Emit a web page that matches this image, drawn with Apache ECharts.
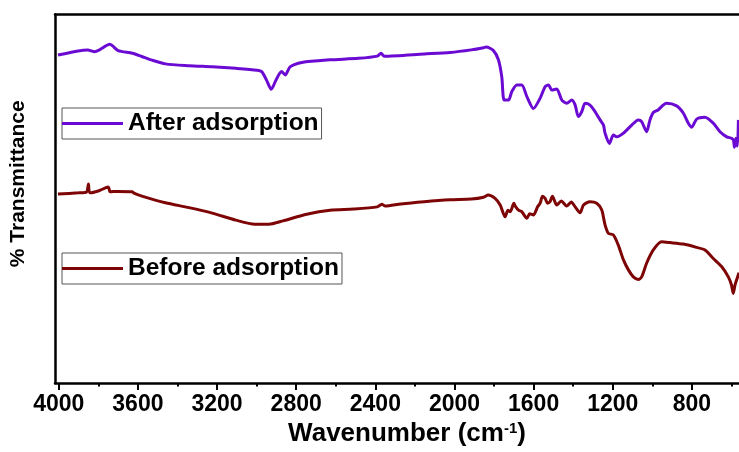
<!DOCTYPE html>
<html>
<head>
<meta charset="utf-8">
<script src="https://cdn.jsdelivr.net/npm/echarts@6/dist/echarts.min.js"></script>
<style>html,body{margin:0;padding:0;background:#fff}#c{width:739px;height:452px}</style>
</head>
<body>
<div id="c"></div>
<script>
// ---- data ----
const afterWavenumber = [4004,3854,3818,3794,3742,3700,3628,3580,3533,3461,3342,3224,3105,2997,2974,2950,2926,2902,2874,2855,2831,2771,2629,2486,2390,2371,2355,2153,2022,1915,1853,1840,1803,1778,1761,1749,1727,1710,1685,1660,1634,1601,1567,1542,1525,1508,1483,1458,1433,1407,1390,1374,1357,1340,1315,1289,1264,1247,1239,1217,1197,1180,1146,1104,1071,1054,1029,1012,995,971,929,877,843,818,801,776,734,692,658,624,599,590,585,578,570,565];
const afterValues = [89.0,90.4,89.9,90.4,91.9,90.2,89.5,88.6,87.7,86.6,86.1,85.8,85.4,84.9,84.5,82.2,79.7,82.2,84.5,83.6,85.8,87.0,87.7,88.1,88.7,89.5,88.7,89.3,89.7,90.4,91.0,91.2,90.2,87.7,83.1,76.8,76.8,79.1,80.9,80.9,77.7,74.5,77.3,80.4,80.9,79.5,79.8,76.8,75.9,76.8,75.4,72.3,73.6,75.9,75.4,73.6,71.4,70.0,67.8,65.0,67.3,66.8,67.8,70.0,71.4,70.9,68.2,71.4,73.4,74.1,75.9,75.2,73.2,70.5,69.4,71.6,72.1,70.5,68.2,66.8,66.4,65.9,64.0,66.4,64.3,71.4];
const beforeWavenumber = [4004,3900,3860,3850,3843,3800,3750,3740,3700,3628,3620,3580,3461,3342,3224,3105,3009,2938,2867,2747,2629,2510,2390,2367,2350,2271,2153,2022,1915,1853,1830,1795,1769,1744,1730,1718,1700,1693,1676,1660,1634,1620,1601,1580,1567,1555,1542,1530,1517,1505,1483,1460,1433,1410,1390,1365,1348,1315,1281,1256,1239,1222,1197,1172,1146,1121,1096,1071,1054,1029,995,953,911,843,776,734,692,650,616,600,591,582,574,562];
const beforeValues = [51.3,51.6,51.8,54.0,51.6,52.1,53.2,51.9,52.0,51.9,51.5,50.7,48.9,47.6,46.1,44.2,43.1,43.1,44.0,45.8,46.9,47.2,47.8,48.5,48.0,48.6,49.2,49.7,49.9,50.4,51.0,50.1,48.3,45.1,46.9,46.5,48.8,48.0,46.9,46.5,44.7,45.9,45.6,47.8,48.8,50.7,50.1,48.8,49.2,50.7,48.3,49.4,48.0,49.1,47.8,46.2,48.3,49.2,48.8,47.0,42.9,40.6,40.2,37.4,33.4,30.7,28.8,28.1,28.8,32.5,36.1,38.3,38.1,37.7,36.8,36.1,33.8,31.6,28.8,26.6,24.3,26.6,28.0,29.9];
const majorTicks = [4000,3600,3200,2800,2400,2000,1600,1200,800];
const minorTicks = [3800,3400,3000,2600,2200,1800,1400,1000,600];
const seriesNames = ['After adsorption','Before adsorption'];
const seriesColors = ['#6A0AD2','#7E0505'];

const pairs = (xs, ys) => xs.map((x, i) => [x, ys[i]]);
const FONT = 'Liberation Sans';
const xMin = 562, xMax = 4019;

const legendBase = {
  orient: 'vertical', icon: 'rect',
  itemWidth: 61, itemHeight: 3, itemGap: 0,
  padding: [3, 3, 3, 0], borderColor: '#555', borderWidth: 1,
  textStyle: {fontFamily: FONT, fontWeight: 'bold', fontSize: 24.5, color: '#000', lineHeight: 24}
};

const chart = echarts.init(document.getElementById('c'), null, {renderer: 'canvas'});
chart.setOption({
  animation: false,
  backgroundColor: '#fff',
  grid: {left: 54.5, top: 14.5, right: 0, bottom: 69, containLabel: false},
  xAxis: [
    {
      type: 'value', position: 'bottom', inverse: true, min: xMin, max: xMax,
      name: 'Wavenumber (cm{sup|-1})', nameLocation: 'middle', nameGap: 37,
      nameTextStyle: {fontFamily: FONT, fontWeight: 'bold', fontSize: 26, color: '#000',
        padding: [0, 0, 0, 20],
        rich: {sup: {fontFamily: FONT, fontWeight: 'bold', fontSize: 15, color: '#000', verticalAlign: 'top', padding: [0,0,10,0]}}},
      axisLine: {show: true, onZero: false, lineStyle: {color: '#000', width: 2.5}},
      axisTick: {show: true, length: 7, lineStyle: {color: '#000', width: 2}, customValues: majorTicks},
      axisLabel: {show: true, margin: 10, fontFamily: FONT, fontWeight: 'bold', fontSize: 23, color: '#000',
        customValues: majorTicks, formatter: v => String(v)},
      splitLine: {show: false}
    },
    {
      type: 'value', position: 'bottom', inverse: true, min: xMin, max: xMax,
      axisLine: {show: false, onZero: false},
      axisTick: {show: true, length: 3.5, lineStyle: {color: '#000', width: 2}, customValues: minorTicks},
      axisLabel: {show: false},
      splitLine: {show: false}
    },
    {
      type: 'value', position: 'top', inverse: true, min: xMin, max: xMax,
      axisLine: {show: true, onZero: false, lineStyle: {color: '#000', width: 2.5}},
      axisTick: {show: false}, axisLabel: {show: false}, splitLine: {show: false}
    }
  ],
  yAxis: {
    type: 'value', min: 0, max: 100,
    name: '% Transmittance', nameLocation: 'middle', nameGap: 26, nameRotate: 90,
    nameTextStyle: {fontFamily: FONT, fontWeight: 'bold', fontSize: 21, color: '#000', padding: [0, 0, 0, 30]},
    axisLine: {show: true, onZero: false, lineStyle: {color: '#000', width: 2.5}},
    axisTick: {show: false}, axisLabel: {show: false}, splitLine: {show: false}
  },
  legend: [
    Object.assign({}, legendBase, {data: [seriesNames[0]], left: 62, top: 108}),
    Object.assign({}, legendBase, {data: [seriesNames[1]], left: 62, top: 253})
  ],
  series: [
    {name: seriesNames[0], type: 'line', xAxisIndex: 0, symbol: 'none', smooth: 0.25,
     lineStyle: {color: seriesColors[0], width: 3}, itemStyle: {color: seriesColors[0]},
     data: pairs(afterWavenumber, afterValues)},
    {name: seriesNames[1], type: 'line', xAxisIndex: 0, symbol: 'none', smooth: 0.25,
     lineStyle: {color: seriesColors[1], width: 3}, itemStyle: {color: seriesColors[1]},
     data: pairs(beforeWavenumber, beforeValues)}
  ]
});
</script>
</body>
</html>
